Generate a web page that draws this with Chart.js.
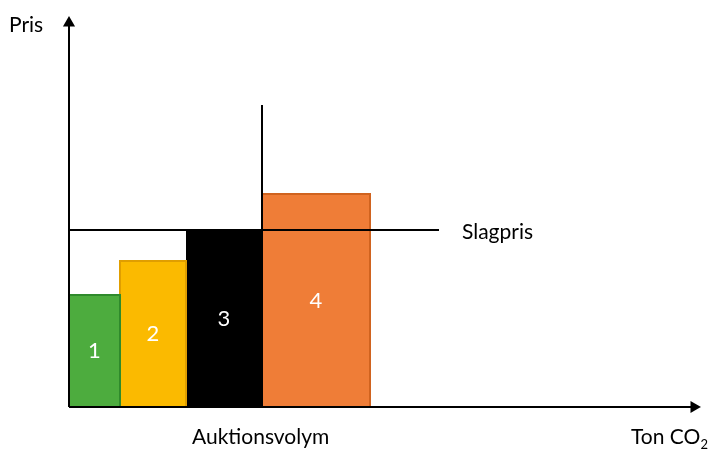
<!DOCTYPE html>
<html>
<head>
<meta charset="utf-8">
<script src="https://cdn.jsdelivr.net/npm/chart.js@4"></script>
<style>
  html, body { margin: 0; padding: 0; background: #fff; }
  #wrap { width: 710px; height: 449px; }
</style>
</head>
<body>
<div id="wrap"><canvas id="chart"></canvas></div>
<script>
// bids in merit order
var bidNames = ['1', '2', '3', '4'];
var bidVolumes = [51, 66, 76, 108];
var bidPrices = [112, 146, 177, 213];
var bidColors = ['#4dac3e', '#fbba00', '#000000', '#ef7d37'];
var bidBorders = ['#2f8a2c', '#e09e00', '#000000', '#d0631f'];

var clearingPrice = 177;
var clearingLineEnd = 370;
var auctionVolume = 193;
var auctionLineTop = 302;

var xMax = 630;
var yMax = 389;

var font = '"Lato", "Noto Sans", sans-serif';

// one closed step per bid, filled down to zero
var datasets = [];
var x0 = 0;
for (var i = 0; i < bidNames.length; i++) {
    var x1 = x0 + bidVolumes[i];
    datasets.push({
        type: 'line',
        label: bidNames[i],
        data: [{x: x0, y: 0}, {x: x0, y: bidPrices[i]}, {x: x1, y: bidPrices[i]}, {x: x1, y: 0}],
        backgroundColor: bidColors[i],
        borderColor: bidBorders[i],
        borderWidth: i == 2 ? 0 : 2,
        fill: 'origin',
        pointRadius: 0,
        tension: 0,
        order: 2
    });
    x0 = x1;
}

datasets.push({
    type: 'line',
    label: 'Slagpris',
    data: [{x: 0, y: clearingPrice}, {x: clearingLineEnd, y: clearingPrice}],
    borderColor: '#000',
    borderWidth: 2,
    pointRadius: 0,
    fill: false,
    order: 1
});
datasets.push({
    type: 'line',
    label: 'volym',
    data: [{x: auctionVolume, y: 0}, {x: auctionVolume, y: auctionLineTop}],
    borderColor: '#000',
    borderWidth: 2,
    pointRadius: 0,
    fill: false,
    order: 1
});

// axes with arrow heads
datasets.push({
    type: 'line',
    label: 'yaxis',
    data: [{x: 0, y: 0}, {x: 0, y: yMax - 5}],
    borderColor: '#000',
    backgroundColor: '#000',
    borderWidth: 2,
    pointStyle: 'triangle',
    pointRadius: [0, 5],
    fill: false,
    clip: false,
    order: 0
});
datasets.push({
    type: 'line',
    label: 'xaxis',
    data: [{x: 0, y: 0}, {x: xMax - 5, y: 0}],
    borderColor: '#000',
    backgroundColor: '#000',
    borderWidth: 2,
    pointStyle: 'triangle',
    pointRotation: 90,
    pointRadius: [0, 5],
    fill: false,
    clip: false,
    order: 0
});

var textPlugin = {
    id: 'texts',
    afterDraw: function(chart) {
        var c = chart.ctx;
        var xs = chart.scales.x, ys = chart.scales.y;
        c.save();
        c.textBaseline = 'middle';
        c.textAlign = 'center';
        c.fillStyle = '#fff';
        c.font = '22px ' + font;
        var start = 0;
        for (var i = 0; i < bidNames.length; i++) {
            var mid = start + bidVolumes[i] / 2;
            c.fillText(bidNames[i], xs.getPixelForValue(mid), ys.getPixelForValue(bidPrices[i] / 2));
            start += bidVolumes[i];
        }
        c.fillStyle = '#000';
        c.textAlign = 'left';
        c.font = '21px ' + font;
        c.fillText('Slagpris', xs.getPixelForValue(clearingLineEnd) + 23, ys.getPixelForValue(clearingPrice) + 2);
        c.fillText('Pris', 9, 25);
        c.fillText('Auktionsvolym', 192, 437);
        c.fillText('Ton CO', 631, 437);
        var w = c.measureText('Ton CO').width;
        c.font = '13px ' + font;
        c.fillText('2', 631 + w, 445);
        c.restore();
    }
};

var ctx = document.getElementById('chart').getContext('2d');
var chart = new Chart(ctx, {
    type: 'line',
    data: { datasets: datasets },
    options: {
        responsive: true,
        maintainAspectRatio: false,
        animation: false,
        layout: { padding: { left: 69, right: 11, top: 18, bottom: 42 } },
        plugins: {
            legend: { display: false },
            tooltip: { enabled: false }
        },
        scales: {
            x: { type: 'linear', min: 0, max: xMax, display: false },
            y: { type: 'linear', min: 0, max: yMax, display: false }
        }
    },
    plugins: [textPlugin]
});
</script>
</body>
</html>
